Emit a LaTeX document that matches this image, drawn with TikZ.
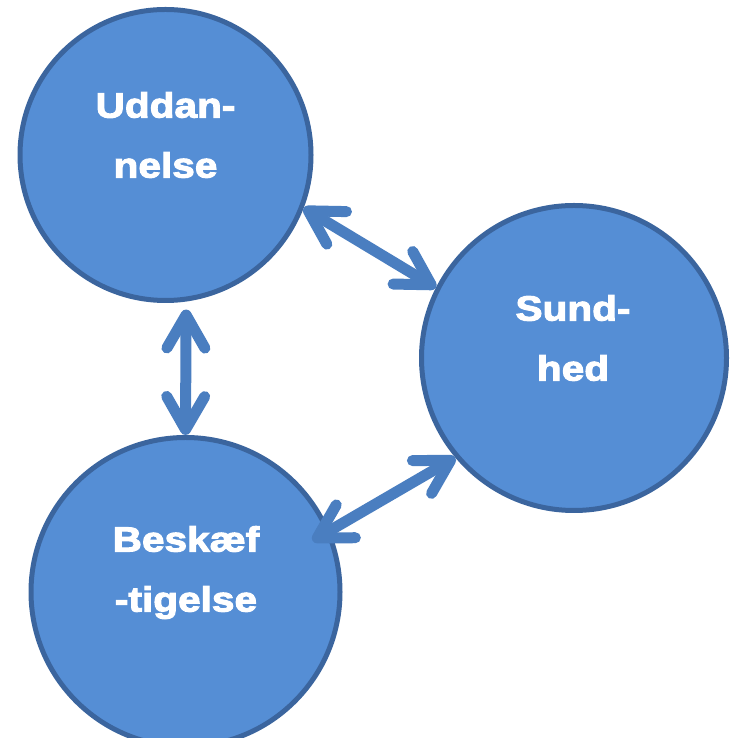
\documentclass[tikz,border=0pt]{standalone}
\usepackage{fontspec}
\usetikzlibrary{arrows.meta}
\newfontfamily\lblfont[FakeStretch=1.16,BoldFeatures={FakeBold=3}]{Liberation Sans}
\definecolor{ballfill}{HTML}{558ED5}
\definecolor{balledge}{HTML}{3B659E}
\definecolor{linkcol}{HTML}{4A7EC0}
\tikzset{linktip/.tip={Straight Barb[length=33pt,width=38pt,line cap=round,line join=round]}}
\begin{document}
\begin{tikzpicture}[x=1pt,y=1pt,
  ball/.style={circle, draw=balledge, fill=ballfill, line width=5pt, inner sep=0pt},
  balltext/.style={anchor=north, inner sep=0pt, align=center, text=white,
    font=\lblfont\bfseries\fontsize{35}{60}\selectfont},
  link/.style={draw=linkcol, line width=11pt, line cap=round, line join=round,
    linktip-linktip}]
  \useasboundingbox (0,0) rectangle (732,738);

  % the three circles
  \node[ball, minimum size=291pt] (udd) at (165.5,583) {};
  \node[ball, minimum size=305pt] (sund) at (574,380) {};
  \node[ball, minimum size=309pt] (besk) at (185.5,146) {};

  % labels
  \node[balltext] (uddtxt) at (165.5,646) {Uddan-\\nelse};
  \node[balltext] (sundtxt) at (573,443) {Sund-\\hed};
  \node[balltext] (besktxt) at (186,212) {Beskæf\\-tigelse};

  % two-way links
  \draw[link] (udd.-21) -- (sund.153);
  \draw[link] ([shift={(0,-8)}]udd.-82) -- (besk.90);
  \draw[link] (sund.-140) -- ([shift={(22:137)}]besk.center);
\end{tikzpicture}
\end{document}
